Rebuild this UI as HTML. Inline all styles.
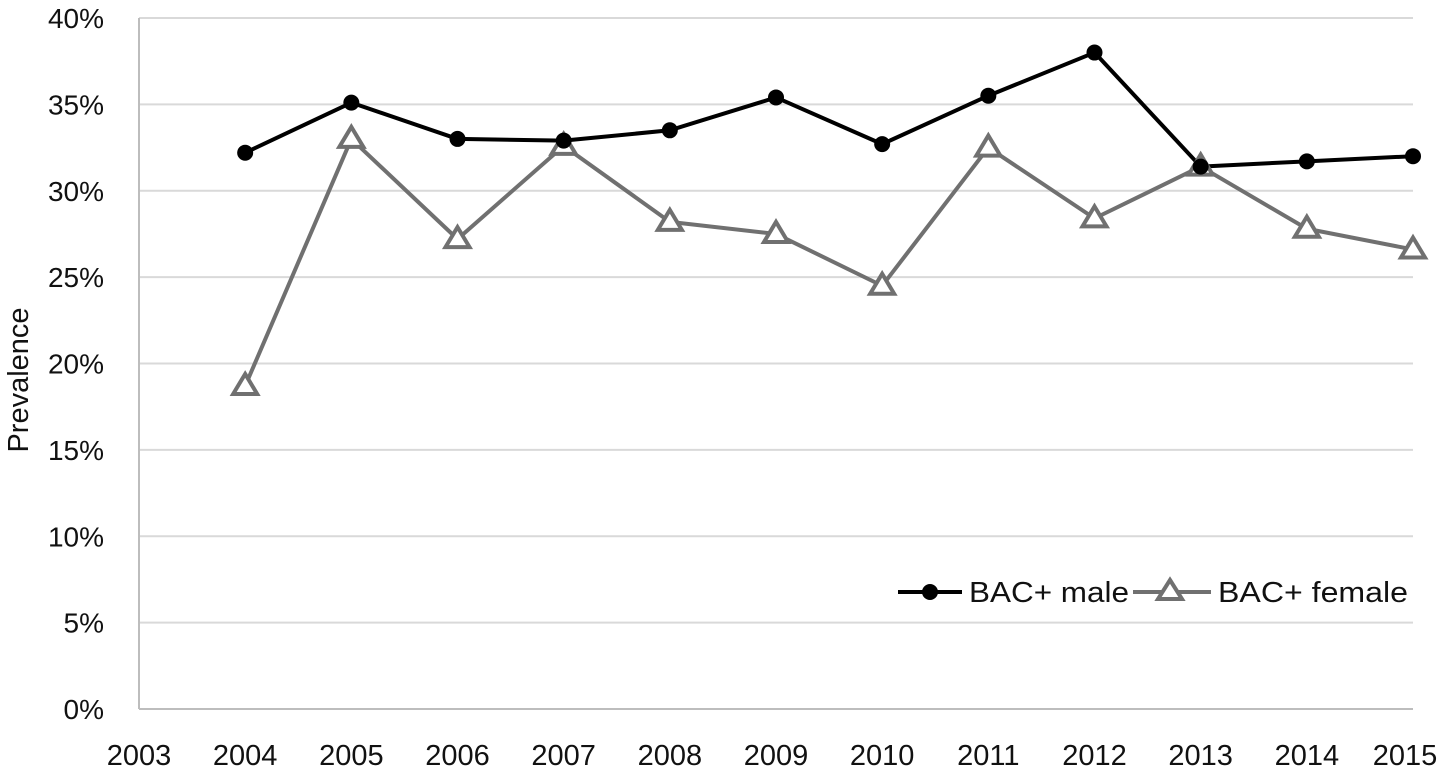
<!DOCTYPE html>
<html><head><meta charset="utf-8"><style>
html,body{margin:0;padding:0;background:#fff;}
svg{display:block;font-family:"Liberation Sans",sans-serif;}
</style></head><body>
<svg id="chart" width="1455" height="773" viewBox="0 0 1455 773">
<g id="grid"></g>
<g id="yticks"></g>
<g id="xticks"></g>
<g id="series"></g>
<text transform="translate(28,380) rotate(-90)" text-anchor="middle" font-size="29" fill="#111">Prevalence</text>
<g>
 <g>
  <line x1="898" y1="592" x2="962" y2="592" stroke="#000" stroke-width="4"/>
  <circle cx="930" cy="592" r="8" fill="#000"/>
  <text x="969" y="602" font-size="29" fill="#111" textLength="160" lengthAdjust="spacingAndGlyphs">BAC+ male</text>
 </g>
 <g>
  <line x1="1133" y1="592" x2="1211" y2="592" stroke="#707070" stroke-width="4"/>
  <polygon points="1170,580 1182,599 1158,599" fill="#fff" stroke="#707070" stroke-width="4"/>
  <text x="1218" y="602" font-size="29" fill="#111" textLength="190" lengthAdjust="spacingAndGlyphs">BAC+ female</text>
 </g>
</g>
</svg>
<script>
const years=[2004,2005,2006,2007,2008,2009,2010,2011,2012,2013,2014,2015];
const maleValues=[32.2,35.1,33.0,32.9,33.5,35.4,32.7,35.5,38.0,31.4,31.7,32.0];
const femaleValues=[18.7,33.0,27.2,32.6,28.2,27.5,24.5,32.5,28.4,31.4,27.8,26.6];
const yTicks=[0,5,10,15,20,25,30,35,40];
const xTicks=[2003,2004,2005,2006,2007,2008,2009,2010,2011,2012,2013,2014,2015];
const NS="http://www.w3.org/2000/svg";
const X0=139,X1=1413,Y0=709,Y1=18;
function xs(v){return X0+(v-2003)/(2015-2003)*(X1-X0);}
function ys(v){return Y0-(v/40)*(Y0-Y1);}
function mk(tag,attrs,parent){const e=document.createElementNS(NS,tag);for(const k in attrs)e.setAttribute(k,attrs[k]);parent.appendChild(e);return e;}
const grid=document.getElementById('grid'),yt=document.getElementById('yticks'),xt=document.getElementById('xticks'),ser=document.getElementById('series');
yTicks.forEach(t=>{
 const l=mk('line',{x1:X0,x2:X1,y1:ys(t),y2:ys(t),stroke:t===0?'#bdbdbd':'#d9d9d9','stroke-width':2},grid);
 
 
 const tx=mk('text',{x:104,y:ys(t)+10,'text-anchor':'end','font-size':28,fill:'#111'},yt);
 tx.textContent=t+'%';
 
 
});
const ax=mk('line',{x1:X0,x2:X0,y1:Y1,y2:Y0,stroke:'#bdbdbd','stroke-width':2},grid);


xTicks.forEach(t=>{
 let x=xs(t); if(x>1400)x=1405;
 const tx=mk('text',{x:x,y:765,'text-anchor':'middle','font-size':29,fill:'#111'},xt);
 tx.textContent=t;
 
 
});
function pts(vals){return vals.map((v,i)=>xs(years[i])+','+ys(v)).join(' ');}
const fl=mk('polyline',{points:pts(femaleValues),fill:'none',stroke:'#707070','stroke-width':4,'stroke-linejoin':'round'},ser);


const ml=mk('polyline',{points:pts(maleValues),fill:'none',stroke:'#000','stroke-width':4,'stroke-linejoin':'round'},ser);


femaleValues.forEach((v,i)=>{
 const x=xs(years[i]),y=ys(v);
 const p=mk('polygon',{points:`${x},${y-12} ${x+12},${y+8} ${x-12},${y+8}`,fill:'#fff',stroke:'#707070','stroke-width':4},ser);
 
 
});
maleValues.forEach((v,i)=>{
 const c=mk('circle',{cx:xs(years[i]),cy:ys(v),r:8,fill:'#000'},ser);
 
 
});
</script>
</body></html>
